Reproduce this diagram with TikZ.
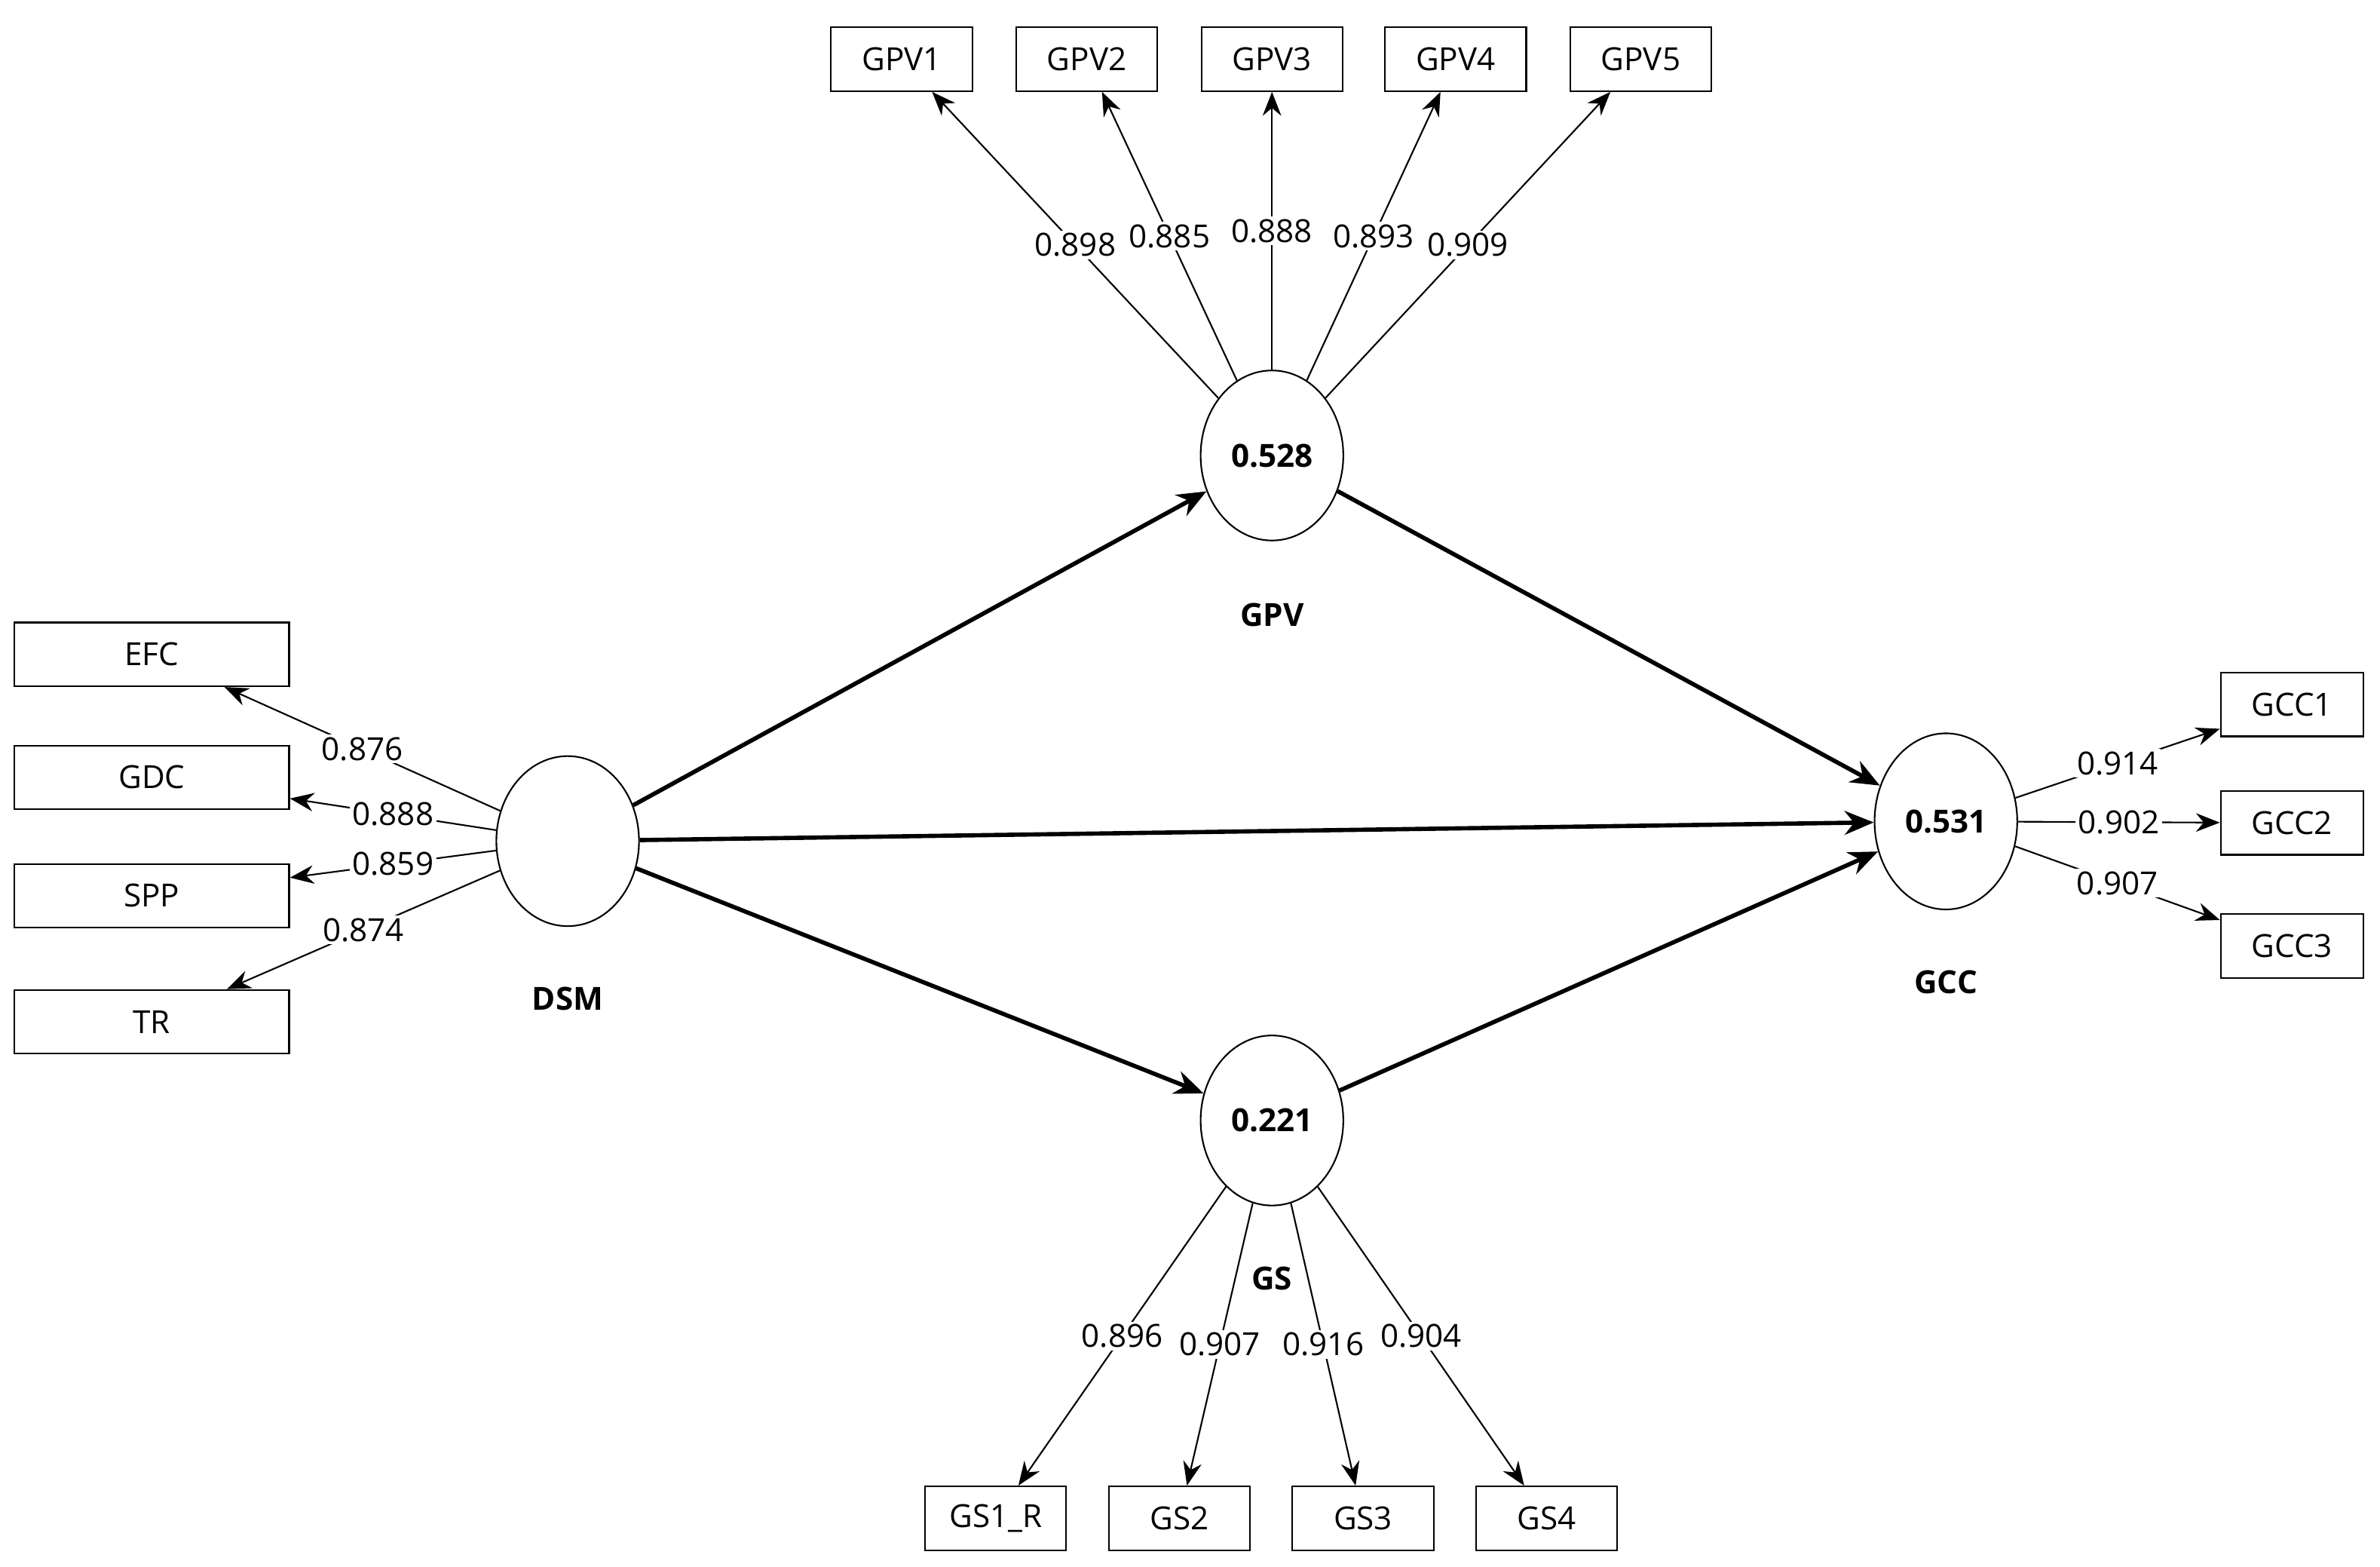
\documentclass[tikz,border=0pt]{standalone}
\usepackage{fontspec}
\setmainfont{Open Sans}
\usetikzlibrary{arrows.meta,shapes.geometric}
\begin{document}
\begin{tikzpicture}[x=0.02013cm,y=-0.02013cm,
  font=\fontsize{12}{14}\selectfont,
  ind/.style={draw,line width=0.6pt,minimum width=93*0.02013cm,minimum height=42*0.02013cm,inner sep=0pt},
  indw/.style={ind,minimum width=181*0.02013cm},
  lat/.style={draw,ellipse,line width=0.6pt,minimum width=94*0.02013cm,minimum height=112*0.02013cm,inner sep=0pt,font=\fontsize{12}{14}\selectfont\bfseries},
  lbl/.style={font=\fontsize{12}{14}\selectfont\bfseries},
  ld/.style={line width=0.6pt,-{Stealth[length=9pt,width=7pt]}},
  st/.style={line width=1.6pt,-{Stealth[length=11pt,width=9pt]}},
  w/.style={fill=white,inner sep=1pt,pos=0.5}]
\useasboundingbox (0,0) rectangle (1568,1032);
% latent
\node[lat] (GPV) at (838,300) {0.528};
\node[lat] (DSM) at (374,554) {};
\node[lat] (GS) at (838,738) {0.221};
\node[lat,minimum height=116*0.02013cm] (GCC) at (1282,541) {0.531};
\node[lbl] (lGPV) at (838,405) {GPV};
\node[lbl] (lDSM) at (374,658) {DSM};
\node[lbl] (lGS) at (838,842) {GS};
\node[lbl] (lGCC) at (1282,647) {GCC};
% indicators
\node[ind] (GPV1) at (594,39) {GPV1};
\node[ind] (GPV2) at (716,39) {GPV2};
\node[ind] (GPV3) at (838,39) {GPV3};
\node[ind] (GPV4) at (959,39) {GPV4};
\node[ind] (GPV5) at (1081,39) {GPV5};
\node[indw] (EFC) at (100,431) {EFC};
\node[indw] (GDC) at (100,512) {GDC};
\node[indw] (SPP) at (100,590) {SPP};
\node[indw] (TR) at (100,673) {TR};
\node[ind,minimum width=94*0.02013cm] (GCC1) at (1510,464) {GCC1};
\node[ind,minimum width=94*0.02013cm] (GCC2) at (1510,542) {GCC2};
\node[ind,minimum width=94*0.02013cm] (GCC3) at (1510,623) {GCC3};
\node[ind] (GS1) at (656,1000) {GS1\_R};
\node[ind] (GS2) at (777,1000) {GS2};
\node[ind] (GS3) at (898,1000) {GS3};
\node[ind] (GS4) at (1019,1000) {GS4};
% loadings
\draw[ld] (GPV) -- node[w]{0.898} (GPV1);
\draw[ld] (GPV) -- node[w]{0.885} (GPV2);
\draw[ld] (GPV) -- node[w]{0.888} (GPV3);
\draw[ld] (GPV) -- node[w]{0.893} (GPV4);
\draw[ld] (GPV) -- node[w]{0.909} (GPV5);
\draw[ld] (DSM) -- node[w]{0.876} (EFC);
\draw[ld] (DSM) -- node[w]{0.888} (GDC);
\draw[ld] (DSM) -- node[w]{0.859} (SPP);
\draw[ld] (DSM) -- node[w]{0.874} (TR);
\draw[ld] (GCC) -- node[w]{0.914} (GCC1);
\draw[ld] (GCC) -- node[w]{0.902} (GCC2);
\draw[ld] (GCC) -- node[w]{0.907} (GCC3);
\draw[ld] (GS) -- node[w]{0.896} (GS1);
\draw[ld] (GS) -- node[w]{0.907} (GS2);
\draw[ld] (GS) -- node[w]{0.916} (GS3);
\draw[ld] (GS) -- node[w]{0.904} (GS4);
% structural
\draw[st] (DSM) -- (GPV);
\draw[st] (DSM) -- (GCC);
\draw[st] (DSM) -- (GS);
\draw[st] (GPV) -- (GCC);
\draw[st] (GS) -- (GCC);
\end{tikzpicture}
\end{document}
